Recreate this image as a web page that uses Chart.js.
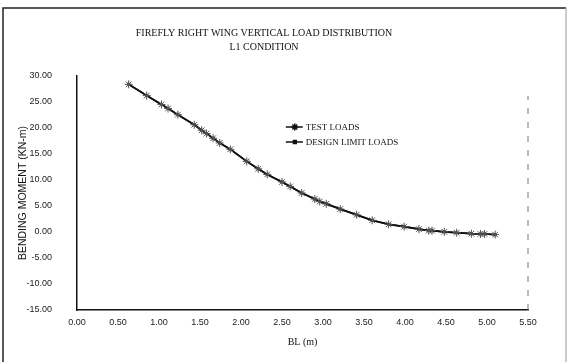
<!DOCTYPE html>
<html>
<head>
<meta charset="utf-8">
<script src="https://cdn.jsdelivr.net/npm/chart.js@4.4.1/dist/chart.umd.min.js"></script>
<style>
  html, body { margin: 0; padding: 0; background: #fff; }
  #wrap { position: relative; width: 568px; height: 362px; }
</style>
</head>
<body>
<div id="wrap"><canvas id="myChart" width="568" height="362"></canvas></div>
<script>
// Chart data
// --------------------------------------------
const chartTitle = ['FIREFLY RIGHT WING VERTICAL LOAD DISTRIBUTION', 'L1 CONDITION']
const xTitle = 'BL (m)'
const yTitle = 'BENDING MOMENT (KN-m)'
const seriesNames = ['TEST LOADS', 'DESIGN LIMIT LOADS']

// span station along the wing, metres
const stations = [0.63, 0.85, 1.03, 1.11, 1.23, 1.43, 1.52, 1.58, 1.66, 1.74,
    1.87, 2.07, 2.21, 2.32, 2.50, 2.60, 2.74, 2.90, 2.96, 3.04,
    3.21, 3.41, 3.60, 3.80, 3.99, 4.17, 4.29, 4.33, 4.48, 4.63,
    4.81, 4.92, 4.97, 5.10]

// bending moment, kN-m
const testLoads = [28.40, 26.23, 24.53, 23.76, 22.56, 20.63, 19.57, 18.93, 18.03, 17.12,
    15.90, 13.58, 12.14, 11.07, 9.63, 8.76, 7.50, 6.34, 5.86, 5.42,
    4.41, 3.31, 2.25, 1.48, 1.03, 0.55, 0.26, 0.26, 0.03, -0.13,
    -0.32, -0.38, -0.38, -0.51]

const designLimitLoads = [28.40, 26.23, 24.53, 23.76, 22.56, 20.63, 19.57, 18.93, 18.03, 17.12,
    15.90, 13.58, 12.14, 11.07, 9.63, 8.76, 7.50, 6.34, 5.86, 5.42,
    4.41, 3.31, 2.25, 1.48, 1.03, 0.55, 0.26, 0.26, 0.03, -0.13,
    -0.32, -0.38, -0.38, -0.51]

const xTicks = [0, 0.5, 1, 1.5, 2, 2.5, 3, 3.5, 4, 4.5, 5, 5.5]
const yTicks = [-15, -10, -5, 0, 5, 10, 15, 20, 25, 30]


// Helpers
// --------------------------------------------
function toPoints(xs, ys) {
    return xs.map((x, i) => ({ x: x, y: ys[i] }))
}

const serif = "'Liberation Serif', 'Times New Roman', serif"
const sans = "'Liberation Sans', Arial, sans-serif"


// Page frame + in-plot legend, drawn after the chart
// --------------------------------------------
const framePlugin = {
    id: 'frame',
    afterDraw(chart) {
        const ctx = chart.ctx
        const area = chart.chartArea
        ctx.save()

        // outer border of the scanned page
        ctx.strokeStyle = '#222'
        ctx.lineWidth = 1.5
        ctx.beginPath()
        ctx.moveTo(3, 362)
        ctx.lineTo(3, 8)
        ctx.lineTo(566, 8)
        ctx.stroke()
        ctx.strokeStyle = '#999'
        ctx.lineWidth = 1
        ctx.beginPath()
        ctx.moveTo(566, 8)
        ctx.lineTo(566, 362)
        ctx.stroke()

        // faint right edge of the plot box
        ctx.strokeStyle = '#777'
        ctx.lineWidth = 1
        ctx.setLineDash([6, 8])
        ctx.beginPath()
        ctx.moveTo(area.right, area.bottom)
        ctx.lineTo(area.right, area.top + 20)
        ctx.stroke()
        ctx.setLineDash([])

        // legend
        const lx = area.left + (area.right - area.left) * 0.463
        const ly = area.top + 51
        ctx.font = '9px ' + serif
        ctx.textBaseline = 'middle'
        ctx.fillStyle = '#111'
        chart.data.datasets.forEach((ds, i) => {
            const y = ly + i * 15
            ctx.strokeStyle = '#111'
            ctx.lineWidth = 1.5
            ctx.beginPath()
            ctx.moveTo(lx, y)
            ctx.lineTo(lx + 17, y)
            ctx.stroke()
            Chart.helpers.drawPoint(ctx, {
                pointStyle: ds.pointStyle,
                radius: i === 0 ? 3.5 : 2,
                borderWidth: 1
            }, lx + 9, y)
            ctx.fillText(ds.label, lx + 20, y + 0.5)
        })
        ctx.restore()
    }
}


// Plots the dataset
// --------------------------------------------
const ctx = document.getElementById('myChart').getContext('2d')

const myChart = new Chart(ctx, {
    type: 'scatter',
    data: {
        datasets: [{
            label: seriesNames[0],
            data: toPoints(stations, testLoads),
            showLine: true,
            borderColor: '#111',
            borderWidth: 1.6,
            pointStyle: 'star',
            pointRadius: 4,
            pointBorderWidth: 1,
            pointBorderColor: '#555',
            pointBackgroundColor: '#555'
        }, {
            label: seriesNames[1],
            data: toPoints(stations, designLimitLoads),
            showLine: true,
            borderColor: '#111',
            borderWidth: 1.8,
            pointStyle: 'rect',
            pointRadius: 1.5,
            pointBorderWidth: 1,
            pointBorderColor: '#333',
            pointBackgroundColor: '#999'
        }]
    },
    options: {
        responsive: false,
        animation: false,
        layout: {
            padding: { left: 0, right: 40, top: 26, bottom: 0 }
        },
        plugins: {
            legend: { display: false },
            tooltip: { enabled: false },
            title: {
                display: true,
                text: chartTitle,
                color: '#111',
                font: { family: serif, size: 10, weight: 'normal', lineHeight: 1.4 },
                padding: { top: 0, bottom: 22 }
            }
        },
        scales: {
            x: {
                type: 'linear',
                min: 0,
                max: 5.5,
                afterBuildTicks: scale => {
                    scale.ticks = xTicks.map(v => ({ value: v }))
                },
                afterFit: scale => { scale.height = 52 },
                grid: { display: false, drawTicks: false },
                border: { display: true, color: '#111', width: 1.5 },
                ticks: {
                    padding: 7,
                    color: '#222',
                    maxRotation: 0,
                    font: { family: sans, size: 9 },
                    callback: v => v.toFixed(2)
                },
                title: {
                    display: true,
                    text: xTitle,
                    color: '#111',
                    font: { family: serif, size: 10, lineHeight: 1.2 },
                    padding: { top: 0, bottom: 14 }
                }
            },
            y: {
                type: 'linear',
                min: -15,
                max: 30,
                afterBuildTicks: scale => {
                    scale.ticks = yTicks.map(v => ({ value: v }))
                },
                afterFit: scale => { scale.width = 77 },
                grid: { display: false, drawTicks: false },
                border: { display: true, color: '#111', width: 1.5 },
                ticks: {
                    padding: 25,
                    color: '#222',
                    font: { family: sans, size: 9 },
                    callback: v => v.toFixed(2)
                },
                title: {
                    display: true,
                    text: yTitle,
                    color: '#111',
                    font: { family: sans, size: 10.5, lineHeight: 1.2 },
                    padding: { top: 17, bottom: 0 }
                }
            }
        }
    },
    plugins: [framePlugin]
})
</script>
</body>
</html>
